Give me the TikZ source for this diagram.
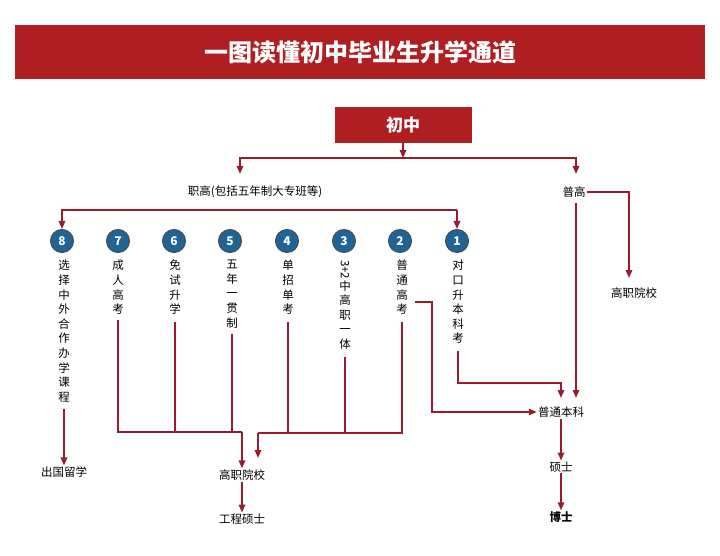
\documentclass[tikz,border=0pt]{standalone}
\usepackage{fontspec}
\setmainfont{Noto Sans CJK SC}
\usetikzlibrary{positioning, calc, arrows.meta}
\definecolor{barred}{HTML}{B01E22}
\definecolor{linered}{HTML}{9A1B2E}
\definecolor{dotblue}{HTML}{1F6496}
\tikzset{
  redbox/.style={fill=barred, text=white, font=\bfseries, inner sep=0pt},
  flow/.style={draw=linered, line width=1.6pt, -{Triangle[length=8pt,width=6.5pt]}},
  wire/.style={draw=linered, line width=1.6pt},
  num/.style={circle, fill=dotblue, draw=black!70, line width=1pt, minimum size=23pt, inner sep=0pt, text=white, font=\bfseries\fontsize{12}{13}\selectfont},
  lbl/.style={font=\fontsize{11.5}{13}\selectfont, inner sep=1pt},
  vlbl/.style={font=\fontsize{11.5}{14.6}\selectfont, align=center, inner sep=1pt, anchor=north}
}
\begin{document}
\begin{tikzpicture}[x=1pt, y=-1pt]
        \useasboundingbox (0,0) rectangle (720,556);

        % title
        \node[redbox, minimum width=690pt, minimum height=54pt, font=\bfseries\fontsize{24}{28}\selectfont] (title) at (360,52) {一图读懂初中毕业生升学通道};
        \node[redbox, minimum width=137pt, minimum height=36pt, font=\bfseries\fontsize{17}{20}\selectfont] (chuzhong) at (403,125) {初中};

        % first split
        \coordinate (split) at (403,158);
        \node[lbl] (zhigao) at (255,192) {职高(包括五年制大专班等)};
        \node[lbl] (pugao) at (574,192) {普高};
        \node[lbl] (gzyx) at (634,293) {高职院校};
        \draw[flow] (chuzhong.south) -- (split);
        \draw[flow] (split) -| (240,174);
        \draw[flow] (split) -| (576,174);
        \draw[flow] (pugao.east) -| (629,278);

        % the eight routes
        \foreach \n/\x in {8/62,7/118,6/174,5/230,4/287,3/344,2/400,1/457}
            \node[num] (c\n) at (\x,241) {\n};
        \draw[flow] (c1.center) ++(0,-31) coordinate (bar1) -| (c8.north);
        \draw[flow] (bar1) -- (c1.north);

        \node[vlbl] (t8) at (64,259) {选\\择\\中\\外\\合\\作\\办\\学\\课\\程};
        \node[vlbl] (t7) at (118,259) {成\\人\\高\\考};
        \node[vlbl] (t6) at (175,259) {免\\试\\升\\学};
        \node[vlbl] (t5) at (232,259) {五\\年\\一\\贯\\制};
        \node[vlbl] (t4) at (288,259) {单\\招\\单\\考};
        \node[vlbl] (t3) at (345,259) {\rotatebox{-90}{3+2}\\中\\高\\职\\一\\体};
        \node[vlbl] (t2) at (402,259) {普\\通\\高\\考};
        \node[vlbl] (t1) at (458,259) {对\\口\\升\\本\\科\\考};

        % targets
        \node[lbl] (abroad) at (64,472) {出国留学};
        \node[lbl] (gzyx2) at (242,475) {高职院校};
        \node[lbl] (gcss) at (242,519) {工程硕士};
        \node[lbl] (benke) at (561,412) {普通本科};
        \node[lbl] (shuoshi) at (561,467) {硕士};
        \node[lbl, font=\fontsize{11.5}{13}\selectfont\bfseries] (boshi) at (561,517) {博士};

        \coordinate (joinL) at (242,432);
        \coordinate (joinR) at (258,433);
        \draw[flow] (t8.south) ++(0,6) -- (abroad.north);
        \draw[wire] (t7.south) ++(0,4) |- (joinL);
        \draw[wire] (t6.south) ++(0,6) -- (175,432);
        \draw[wire] (t5.south) ++(0,5) -- (232,432);
        \draw[flow] (joinL) -- (gzyx2.north);
        \draw[wire] (t4.south) ++(0,6) -- (288,433);
        \draw[wire] (t3.south) ++(0,6) -- (345,433);
        \draw[wire] (t2.south) ++(0,6) |- (joinR);
        \draw[flow] (joinR) -- (258,458);
        \draw[flow] (415,302) -| (432,412) -- (benke.west);
        \draw[flow] (t1.south) ++(0,6) |- (561,383) -- (561,398);
        \draw[flow] (pugao.south) ++(2,4) -- (576,398);
        \draw[flow] (gzyx2.south) -- (gcss.north);
        \draw[flow] (benke.south) -- (shuoshi.north);
        \draw[flow] (shuoshi.south) -- (boshi.north);
    \end{tikzpicture}
\end{document}
